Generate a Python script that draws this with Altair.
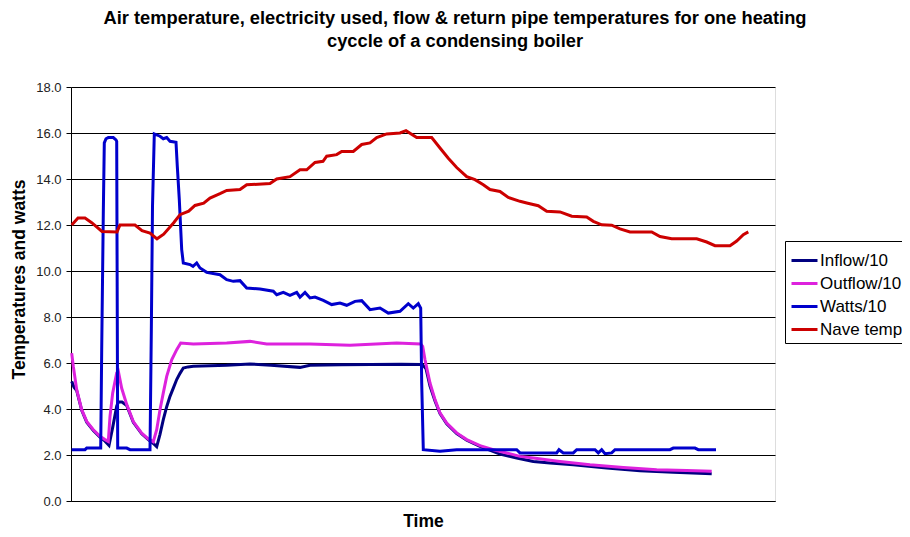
import altair as alt
import pandas as pd

# Time axis is unlabeled in the source; positions in arbitrary time units (0..704)
inflow_t = [0.7, 3, 5.7, 10.7, 15.7, 22.3, 29, 34, 38, 41.7,
            45.7, 47.3, 51, 55.7, 62.3, 70.7, 77.3, 82.3, 85.7, 89,
            92.3, 95.7, 99, 102.7, 105.7, 109, 112.3, 117, 122.3, 155.7,
            179, 200, 229, 239, 270, 300, 330, 349.7, 352, 355,
            359, 364, 369, 375.7, 385.7, 395.7, 409, 429, 445.7, 462.3,
            479, 502.3, 535.7, 569, 602.3, 640.7]
inflow_v = [5.2, 4.95, 4.8, 3.94, 3.43, 3.07, 2.78, 2.6, 2.42, 3.2,
            4.12, 4.3, 4.3, 4.15, 3.42, 2.92, 2.67, 2.5, 2.36, 2.9,
            3.54, 4.1, 4.55, 4.95, 5.28, 5.55, 5.78, 5.83, 5.86, 5.9,
            5.96, 5.9, 5.81, 5.9, 5.92, 5.93, 5.95, 5.93, 5.9, 5.75,
            5.0, 4.35, 3.8, 3.36, 2.93, 2.64, 2.38, 2.04, 1.87, 1.72,
            1.65, 1.58, 1.43, 1.32, 1.25, 1.19]

outflow_t = [0.7, 2.3, 5.7, 10.7, 15.7, 22.3, 29, 34, 37.3, 39,
             41.7, 45.7, 47.3, 50.7, 55.7, 62.3, 70.7, 77.3, 82.3, 85.7,
             89, 92.3, 95.7, 100.7, 105.7, 109.7, 122.3, 155.7, 179, 195.7,
             239, 279, 325.7, 349.7, 351.7, 354, 359, 364, 369, 375.7,
             385.7, 395.7, 409, 422.3, 435.7, 449, 462.3, 489, 519, 552.3,
             585.7, 615.7, 640.7]
outflow_v = [6.43, 5.86, 4.84, 3.97, 3.46, 3.1, 2.81, 2.67, 2.59, 3.68,
             4.7, 5.57, 5.65, 4.9, 4.2, 3.45, 2.95, 2.7, 2.58, 3.1,
             3.97, 4.7, 5.42, 6.14, 6.58, 6.87, 6.83, 6.87, 6.94, 6.83,
             6.83, 6.77, 6.87, 6.83, 6.72, 6.14, 5.13, 4.41, 3.83, 3.39,
             2.96, 2.67, 2.41, 2.23, 2.09, 1.94, 1.87, 1.72, 1.58, 1.46,
             1.36, 1.33, 1.29]

watts_t = [0.7, 14, 15.7, 29.7, 30.7, 32.3, 33.3, 35, 37.3, 42.3,
           45, 45.7, 46.7, 55.7, 59, 79, 80.3, 81.5, 83.3, 89,
           92.3, 95.7, 99, 105, 106.3, 108.3, 110.7, 112.3, 119, 122,
           125.7, 129, 135.7, 149, 155.7, 162.3, 169, 175.7, 189, 202.3,
           205.7, 212.3, 219, 225.7, 229, 234, 239, 244, 252.3, 260.7,
           269, 275.7, 284, 290.7, 299, 309, 317.3, 329, 337.3, 342.3,
           347.3, 349.7, 350.7, 352.3, 369, 385.7, 445.7, 449, 485.7, 488,
           492.3, 502.3, 505.7, 524, 527.3, 530.7, 534, 540.7, 544, 599,
           602.3, 624, 627.3, 645]
watts_v = [2.23, 2.23, 2.3, 2.3, 6.58, 12.5, 15.57, 15.75, 15.8, 15.8,
           15.7, 15.64, 2.3, 2.3, 2.23, 2.23, 7.3, 12.8, 15.96, 15.86,
           15.75, 15.8, 15.64, 15.6, 14.55, 13.1, 10.93, 10.35, 10.28, 10.2,
           10.35, 10.13, 9.94, 9.84, 9.62, 9.55, 9.58, 9.26, 9.22, 9.12,
           8.97, 9.07, 8.94, 9.07, 8.86, 9.07, 8.83, 8.87, 8.72, 8.54,
           8.61, 8.51, 8.68, 8.71, 8.32, 8.39, 8.17, 8.25, 8.58, 8.39,
           8.58, 8.39, 5.13, 2.23, 2.16, 2.23, 2.23, 2.09, 2.09, 2.23,
           2.09, 2.09, 2.23, 2.23, 2.09, 2.23, 2.06, 2.09, 2.23, 2.23,
           2.3, 2.3, 2.23, 2.23]

nave_t = [0.7, 7, 14, 20.7, 31, 46, 49, 64, 71, 79,
          86, 92.7, 102.7, 109, 117.7, 124, 132.7, 139, 149, 155.7,
          169, 175.7, 199, 205.7, 219, 229, 235.7, 244, 252, 255.7,
          265.7, 270.7, 282.3, 290.7, 299, 305.7, 315.7, 329, 335, 345.7,
          360.7, 369, 377.3, 385.7, 395.7, 404, 412.3, 419, 429, 437.3,
          449, 455.7, 467.3, 475.7, 489, 500.7, 515.7, 522.3, 530.7, 540.7,
          549, 559, 580.7, 589, 600.7, 625.7, 635.7, 644, 659, 665.7,
          672.3, 677.3]
nave_v = [12.0, 12.3, 12.3, 12.1, 11.72, 11.7, 12.0, 12.0, 11.75, 11.65,
          11.4, 11.6, 12.1, 12.45, 12.6, 12.85, 12.95, 13.17, 13.36, 13.5,
          13.54, 13.75, 13.8, 14.0, 14.1, 14.4, 14.4, 14.72, 14.77, 14.99,
          15.06, 15.2, 15.2, 15.5, 15.57, 15.8, 15.96, 16.0, 16.1, 15.8,
          15.8, 15.35, 14.9, 14.5, 14.1, 13.97, 13.75, 13.54, 13.46, 13.2,
          13.03, 12.96, 12.84, 12.6, 12.57, 12.38, 12.35, 12.16, 12.01, 11.99,
          11.83, 11.7, 11.7, 11.5, 11.4, 11.4, 11.26, 11.1, 11.1, 11.3,
          11.58, 11.7]

series_names = ["Inflow/10", "Outflow/10", "Watts/10", "Nave temp"]
series_colors = ["#000080", "#dd22dd", "#0000cc", "#cc0000"]
y_ticks = [0, 2, 4, 6, 8, 10, 12, 14, 16, 18]

rows = []
for name, ts, vs in zip(series_names,
                        [inflow_t, outflow_t, watts_t, nave_t],
                        [inflow_v, outflow_v, watts_v, nave_v]):
    for i, (t, v) in enumerate(zip(ts, vs)):
        rows.append({"series": name, "t": t, "v": v, "i": i})
df = pd.DataFrame(rows)

FONT = "Liberation Sans"

base = alt.Chart(df)

x_enc = alt.X("t:Q", scale=alt.Scale(domain=[0, 704], nice=False, zero=False),
              axis=alt.Axis(title="Time", labels=False, ticks=False, grid=False,
                            domain=True, domainColor="black",
                            titleFont=FONT, titleFontSize=17.5, titleFontWeight="bold",
                            titleColor="black", titlePadding=11))
y_enc = alt.Y("v:Q", scale=alt.Scale(domain=[0, 18], nice=False),
              axis=alt.Axis(title="Temperatures and watts", values=y_ticks, format=".1f",
                            grid=True, gridColor="black", gridWidth=1, gridOpacity=1,
                            domainColor="black", tickColor="black", tickSize=5,
                            labelFont=FONT, labelFontSize=13, labelColor="#222222",
                            labelPadding=5,
                            titleFont=FONT, titleFontSize=17.5, titleFontWeight="bold",
                            titleColor="black", titleX=-52, titleY=192,
                            titleAngle=270, titleAlign="center", titleBaseline="middle"))
color_enc = alt.Color("series:N",
                      scale=alt.Scale(domain=series_names, range=series_colors),
                      legend=alt.Legend(title=None, orient="none", legendX=714, legendY=154,
                                        strokeColor="black", fillColor="white", padding=5,
                                        symbolType="stroke", symbolSize=676,
                                        symbolStrokeWidth=3, labelFont=FONT,
                                        labelFontSize=17, labelColor="black",
                                        rowPadding=-2, labelOffset=1))

layers = []
for name in series_names:
    layers.append(
        base.transform_filter(alt.datum.series == name)
        .mark_line(strokeWidth=3)
        .encode(x=x_enc, y=y_enc, color=color_enc, order="i:Q")
    )

chart = alt.layer(*layers).properties(
    width=704, height=414,
    autosize=alt.AutoSizeParams(type="none"),
    padding={"left": 63, "top": 79, "right": 127, "bottom": 28},
    title=alt.TitleParams(
        text=["Air temperature, electricity used, flow & return pipe temperatures for one heating",
              "cyccle of a condensing boiler"],
        font=FONT, fontSize=18.3, fontWeight="bold", color="black",
        anchor="middle", frame="group", dx=32, dy=28, offset=40, lineHeight=23,
        baseline="bottom"),
).configure_view(stroke="#808080", strokeWidth=1).configure(background="white")

chart.save("out.html", embed_options={"renderer": "svg", "actions": False})
